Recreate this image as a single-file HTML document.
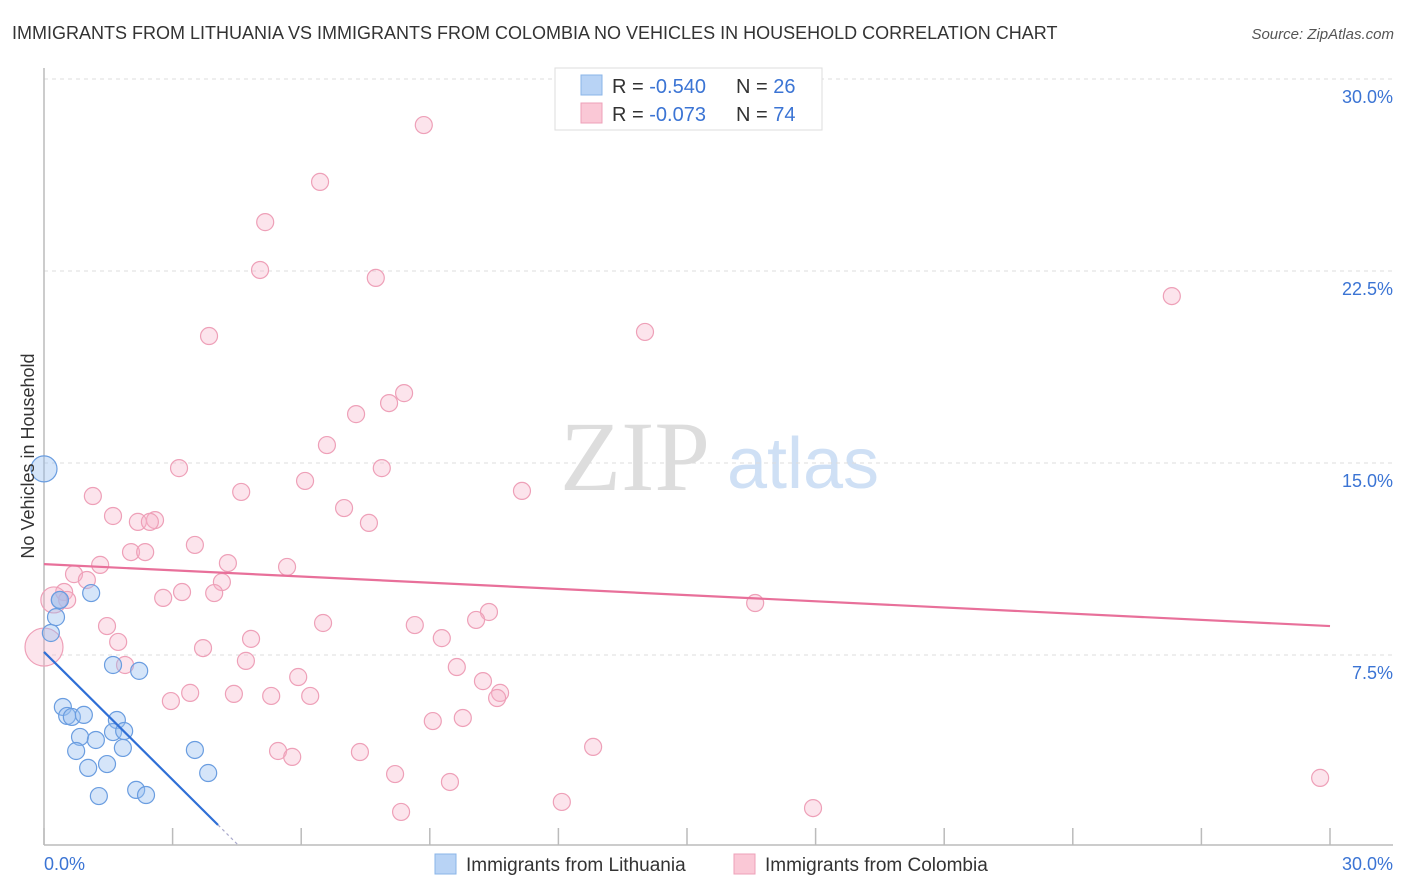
<!DOCTYPE html>
<html><head><meta charset="utf-8"><style>
body{margin:0;background:#fff;font-family:"Liberation Sans",sans-serif}
svg{display:block}
</style></head><body>
<svg id="chart" width="1406" height="892" xmlns="http://www.w3.org/2000/svg">
<text x="12" y="39" font-size="18" fill="#333">IMMIGRANTS FROM LITHUANIA VS IMMIGRANTS FROM COLOMBIA NO VEHICLES IN HOUSEHOLD CORRELATION CHART</text>
<text x="1394" y="39" font-size="15" fill="#555" text-anchor="end" font-style="italic">Source: ZipAtlas.com</text>
<g>
<text x="635" y="490" font-size="100" fill="#ddd" text-anchor="middle" font-family="Liberation Serif,serif">ZIP</text>
<text x="803" y="488" font-size="72" fill="#cfe0f5" text-anchor="middle">atlas</text>
</g>
<g id="grid"></g>
<g id="axes"></g>
<g id="pts"></g>
<g id="trends"></g>
<text transform="translate(34,456) rotate(-90)" font-size="18" fill="#333" text-anchor="middle">No Vehicles in Household</text>
<g>
<rect x="555" y="68" width="267" height="62" fill="#fff" stroke="#ddd"/>
<rect x="581" y="75" width="21" height="20" fill="#b8d3f5" stroke="#8ab4e8"/>
<rect x="581" y="103" width="21" height="20" fill="#fac8d6" stroke="#eea0b8"/>
<text x="612" y="93" font-size="20" fill="#333">R = <tspan fill="#3b74d4">-0.540</tspan><tspan x="736">N = </tspan><tspan fill="#3b74d4">26</tspan></text>
<text x="612" y="121" font-size="20" fill="#333">R = <tspan fill="#3b74d4"> -0.073</tspan><tspan x="736">N = </tspan><tspan fill="#3b74d4">74</tspan></text>
</g>
<g>
<rect x="435" y="854" width="21" height="20" fill="#b8d3f5" stroke="#8ab4e8"/>
<text x="466" y="871" font-size="19" fill="#333">Immigrants from Lithuania</text>
<rect x="734" y="854" width="21" height="20" fill="#fac8d6" stroke="#eea0b8"/>
<text x="765" y="871" font-size="19" fill="#333">Immigrants from Colombia</text>
</g>
</svg>
<script>
const yTicks=[7.5,15,22.5,30];
const yTickLabels=["7.5%","15.0%","22.5%","30.0%"];
const xTicks=[0,3,6,9,12,15,18,21,24,27,30];
const blueX=[0,0.16,0.28,0.37,1.10,1.61,2.22,0.44,0.54,0.65,0.93,0.84,1.21,0.75,1.70,1.61,1.87,1.84,1.03,1.47,3.52,3.83,1.28,2.15,2.38,0.37];
const blueY=[14.77,8.36,8.98,9.65,9.92,7.11,6.88,5.47,5.12,5.08,5.16,4.30,4.18,3.75,4.96,4.49,4.53,3.87,3.09,3.24,3.79,2.89,1.99,2.23,2.03,9.65];
const pinkX=[8.86,6.44,5.16,5.04,7.74,26.31,14.02,3.85,8.40,8.05,7.28,6.60,3.15,7.88,6.09,11.15,4.60,1.14,7.00,1.61,7.58,2.19,2.59,2.47,3.52,2.03,2.36,4.29,5.67,1.31,0.70,1.00,4.15,3.22,0.47,3.97,2.78,0.54,0.23,10.38,16.59,10.08,1.47,6.51,8.65,1.73,9.28,4.83,3.71,0,1.89,4.71,9.63,5.93,10.24,3.41,10.64,2.96,4.43,5.30,6.21,10.57,9.07,9.77,12.81,5.46,7.37,5.79,8.19,9.47,29.77,12.08,17.94,8.33];
const pinkY=[28.20,25.98,24.41,22.54,22.23,21.52,20.12,19.96,17.73,17.34,16.91,15.70,14.80,14.80,14.30,13.91,13.87,13.71,13.24,12.93,12.66,12.70,12.77,12.70,11.80,11.52,11.52,11.09,10.94,11.02,10.66,10.43,10.35,9.96,9.96,9.92,9.73,9.65,9.65,9.18,9.53,8.87,8.63,8.75,8.67,8.01,8.16,8.13,7.77,7.81,7.11,7.27,7.03,6.64,6.48,6.02,6.02,5.70,5.98,5.90,5.90,5.82,4.92,5.04,3.91,3.75,3.71,3.52,2.85,2.54,2.70,1.76,1.52,1.37];
const blueTrend=[[0,7.62],[4.06,0.86]];
const pinkTrend=[[0,11.05],[30,8.63]];
const NS="http://www.w3.org/2000/svg";
const X=v=>44+v/30*1286, Y=v=>847-v/30*768;
function mk(t,p,a){const e=document.createElementNS(NS,t);for(const k in a)e.setAttribute(k,a[k]);p.appendChild(e);return e;}
const grid=document.getElementById('grid'),axes=document.getElementById('axes'),pts=document.getElementById('pts'),tr=document.getElementById('trends');
yTicks.forEach((v,i)=>{
 const l=mk('line',grid,{x1:44,x2:1393,y1:Y(v),y2:Y(v),stroke:'#ddd','stroke-dasharray':'4 4'});
 
 
 const t=mk('text',axes,{x:1393,y:Y(v)+24,'font-size':18,fill:'#3b74d4','text-anchor':'end'});t.textContent=yTickLabels[i];
 
 
});
const ya=mk('line',axes,{x1:44,x2:44,y1:68,y2:845,stroke:'#bbb','stroke-width':1.5});


const xa=mk('line',axes,{x1:44,x2:1393,y1:845,y2:845,stroke:'#bbb','stroke-width':1.5});


xTicks.forEach(v=>{const l=mk('line',axes,{x1:X(v),x2:X(v),y1:828,y2:845,stroke:'#bbb','stroke-width':1.5});
 
 });
[[0,'0.0%','start',44],[30,'30.0%','end',1393]].forEach(d=>{const t=mk('text',axes,{x:d[3],y:870,'font-size':18,fill:'#3b74d4','text-anchor':d[2]});t.textContent=d[1];
 
 });
function pr(i,xs,ys,big){return big[i]||8.5;}
const pinkBig={38:13,49:19};const blueBig={0:13};
pinkX.forEach((v,i)=>{const c=mk('circle',pts,{cx:X(v),cy:Y(pinkY[i]),r:pr(i,pinkX,pinkY,pinkBig),fill:'rgba(247,178,200,0.35)',stroke:'#eea0b8','stroke-width':1.2});
 
 });
blueX.forEach((v,i)=>{const c=mk('circle',pts,{cx:X(v),cy:Y(blueY[i]),r:pr(i,blueX,blueY,blueBig),fill:'rgba(150,190,240,0.4)',stroke:'#6a9de0','stroke-width':1.2});
 
 });
const pl=mk('line',tr,{x1:X(pinkTrend[0][0]),y1:Y(pinkTrend[0][1]),x2:X(pinkTrend[1][0]),y2:Y(pinkTrend[1][1]),stroke:'#e8709a','stroke-width':2.2});


const bl=mk('line',tr,{x1:X(blueTrend[0][0]),y1:Y(blueTrend[0][1]),x2:X(blueTrend[1][0]),y2:Y(blueTrend[1][1]),stroke:'#2f6fd6','stroke-width':2.2});


const sl=(blueTrend[1][1]-blueTrend[0][1])/(blueTrend[1][0]-blueTrend[0][0]);
const xe=blueTrend[1][0]+0.45;
const bd=mk('line',tr,{x1:X(blueTrend[1][0]),y1:Y(blueTrend[1][1]),x2:X(xe),y2:Y(blueTrend[0][1]+sl*xe),stroke:'#aac','stroke-width':1.2,'stroke-dasharray':'3 3'});


</script>
</body></html>
